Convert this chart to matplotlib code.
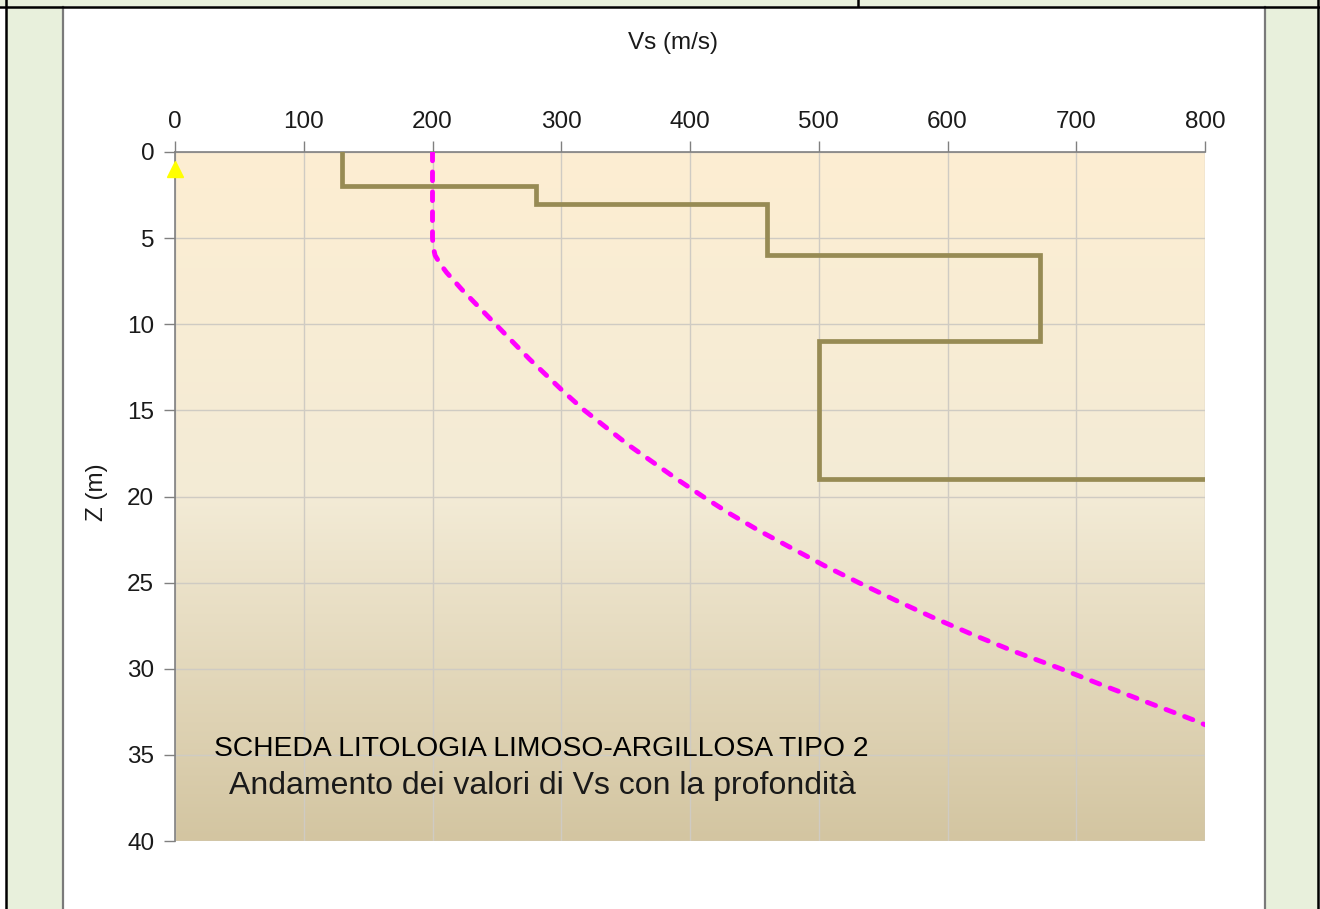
import numpy as np
import matplotlib
matplotlib.use("Agg")
import matplotlib.pyplot as plt
from matplotlib.patches import Rectangle
from matplotlib.lines import Line2D
from matplotlib.colors import LinearSegmentedColormap

# ---------------- data ----------------
layer_top = [0, 2, 3, 6, 11, 19]          # m
layer_bottom = [2, 3, 6, 11, 19, 40]
layer_vs = [130, 280, 460, 672, 500, 1000]  # m/s (last = bedrock, off-scale)

ref_z = [0, 5, 5.5, 6, 6.5, 7, 8, 9, 10, 11, 12, 13, 14, 15, 16, 17, 18, 19, 20,
         21, 22, 23, 24, 25, 26, 27, 28, 29, 30, 31, 32, 33, 33.25]
ref_vs = [200, 200, 200.5, 202, 206, 211, 223, 236, 249, 262, 275, 289, 303, 318,
          335, 352, 371, 390, 410, 431, 454, 479, 504, 531, 559, 588, 619, 652,
          688, 722, 757, 792, 800]

marker_vs = [0]
marker_z = [1]

x_ticks = [0, 100, 200, 300, 400, 500, 600, 700, 800]
y_ticks = [0, 5, 10, 15, 20, 25, 30, 35, 40]

title1 = "SCHEDA LITOLOGIA LIMOSO-ARGILLOSA TIPO 2"
title2 = "Andamento dei valori di Vs con la profondità"

# ---------------- figure ----------------
W, H = 1320, 909
plt.rcParams['font.family'] = ['Liberation Sans', 'DejaVu Sans']
fig = plt.figure(figsize=(W / 100, H / 100), dpi=100)
fig.patch.set_facecolor('white')

def fx(x):
    return x / W

def fy(y):
    return 1 - y / H

green = '#E8F0DC'
# side panels
fig.add_artist(Rectangle((fx(6), 0), fx(63) - fx(6), 1, transform=fig.transFigure,
                         facecolor=green, edgecolor='none', zorder=0))
fig.add_artist(Rectangle((fx(1265), 0), fx(1318) - fx(1265), 1, transform=fig.transFigure,
                         facecolor=green, edgecolor='none', zorder=0))
fig.add_artist(Rectangle((0, fy(6)), 1, 6 / H, transform=fig.transFigure,
                         facecolor=green, edgecolor='none', zorder=0))
# lines
for x in (63, 1265):
    fig.add_artist(Line2D([fx(x), fx(x)], [0, fy(7)], transform=fig.transFigure,
                          color='#7A7A7A', lw=1.6, zorder=1))
for x in (6, 1318):
    fig.add_artist(Line2D([fx(x), fx(x)], [0, 1], transform=fig.transFigure,
                          color='black', lw=1.8, zorder=2))
fig.add_artist(Line2D([0, 1], [fy(6.5), fy(6.5)], transform=fig.transFigure,
                      color='black', lw=1.8, zorder=2))
fig.add_artist(Line2D([fx(858), fx(858)], [fy(6), 1], transform=fig.transFigure,
                      color='black', lw=1.8, zorder=2))

# axes
ax = fig.add_axes([fx(175), fy(841), fx(1205) - fx(175), (841 - 152) / H])
ax.set_xlim(0, 800)
ax.set_ylim(40, 0)

cmap = LinearSegmentedColormap.from_list(
    'bg', [(0, '#FDEED2'), (0.5, '#F3EBD6'), (1.0, '#D3C5A1')])
grad = np.linspace(0, 1, 256).reshape(-1, 1)
ax.imshow(grad, cmap=cmap, extent=[0, 800, 40, 0], aspect='auto', zorder=0,
          interpolation='bilinear')

ax.set_axisbelow(True)
ax.grid(True, color='#CFCBC3', lw=1.0)

# step profile
sx, sy = [], []
for top, bot, v in zip(layer_top, layer_bottom, layer_vs):
    sx += [v, v]
    sy += [top, bot]
ax.plot(sx, sy, color='#978B54', lw=3.4, solid_joinstyle='miter', zorder=3)

# reference curve
ax.plot(ref_vs, ref_z, color='#FF00FF', lw=3.5, ls=(0, (1.8, 2.3)),
        dash_capstyle='round', zorder=4)

ax.plot(marker_vs, marker_z, marker='^', color='#FFFF00', ms=11, ls='none',
        clip_on=False, zorder=5)

ax.set_xticks(x_ticks)
ax.set_yticks(y_ticks)
ax.xaxis.tick_top()
ax.xaxis.set_label_position('top')
ax.tick_params(axis='x', direction='out', length=8, width=1, color='#808080',
               labelsize=17.5, pad=6, labelcolor='#1A1A1A')
ax.tick_params(axis='y', direction='out', length=8, width=1, color='#808080',
               labelsize=17.5, pad=7, labelcolor='#1A1A1A')
for s in ('right', 'bottom'):
    ax.spines[s].set_visible(False)
for s in ('top', 'left'):
    ax.spines[s].set_color('#808080')
    ax.spines[s].set_linewidth(1.2)

fig.text(fx(673), fy(43), 'Vs (m/s)', ha='center', va='center', fontsize=17.5,
         color='#1A1A1A')
fig.text(fx(97), fy(492), 'Z (m)', ha='center', va='center', fontsize=17.5,
         rotation=90, color='#1A1A1A')

fig.text(fx(541), fy(749), title1, ha='center', va='center', fontsize=20.3,
         color='black')
fig.text(fx(542), fy(786), title2, ha='center', va='center', fontsize=23,
         color='#1A1A1A')

fig.savefig('out.png', dpi=100)
